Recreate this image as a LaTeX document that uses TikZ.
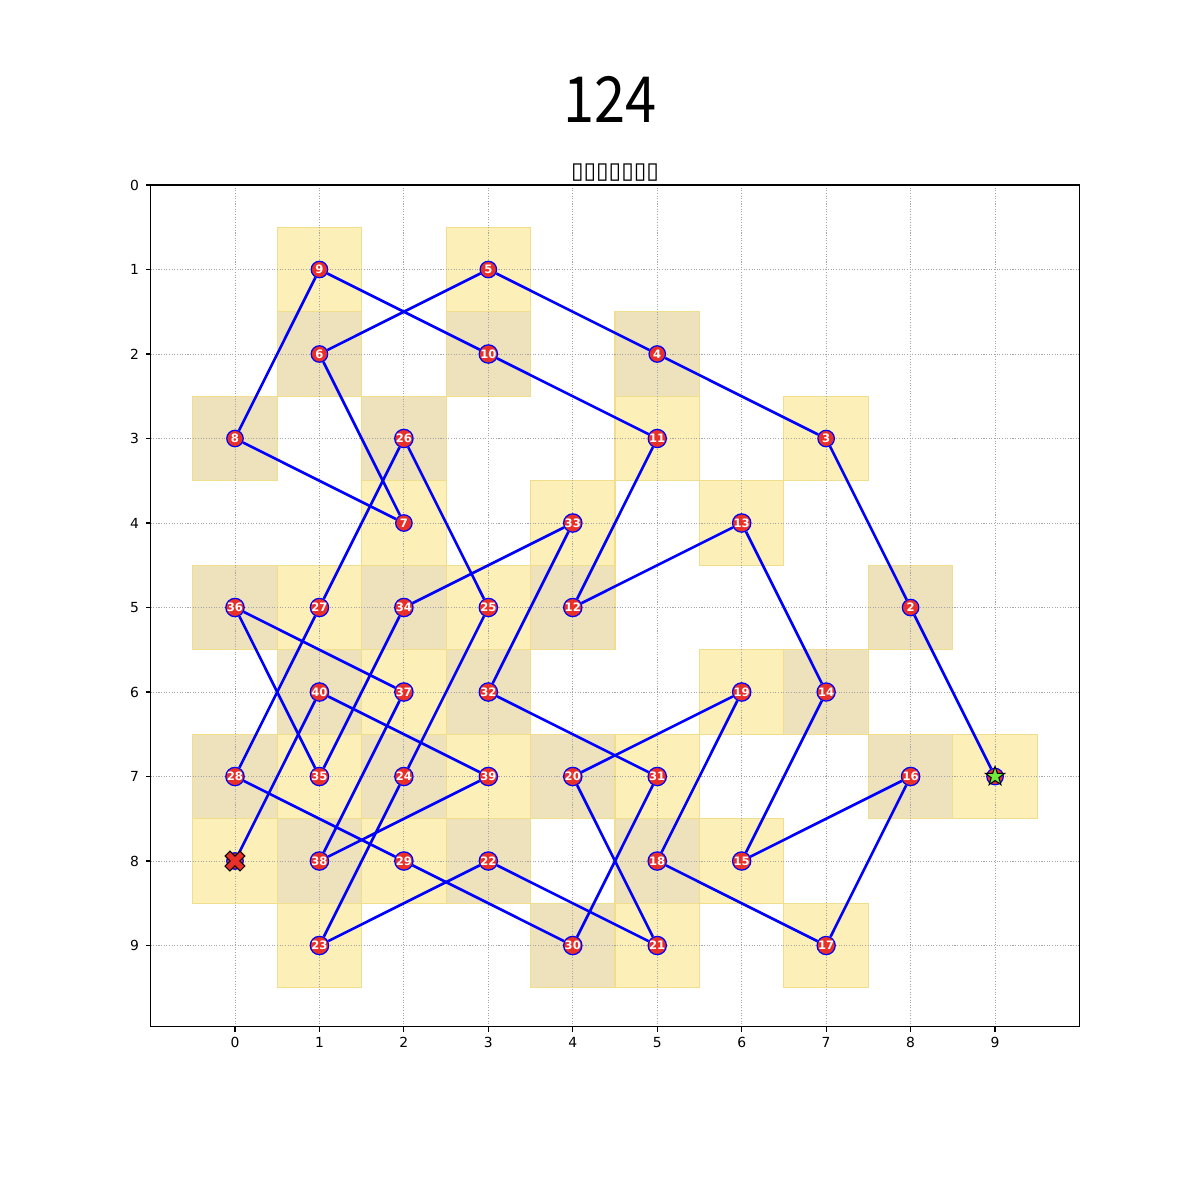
\documentclass[tikz,border=0pt]{standalone}
\usepackage{fontspec}
\setmainfont{DejaVu Sans}
\newfontfamily\titlefont{Noto Sans CJK SC}
\usetikzlibrary{shapes.geometric}

\definecolor{cellodd}{RGB}{252,240,184}
\definecolor{celleven}{RGB}{238,226,188}
\definecolor{celledge}{RGB}{240,222,140}
\definecolor{markred}{RGB}{232,48,40}
\definecolor{startgreen}{RGB}{110,235,60}
\definecolor{gridgray}{RGB}{165,165,165}

\begin{document}
\begin{tikzpicture}[
    x=0.8445cm, y=-0.845cm,
    cell/.style={draw=celledge, line width=0.3pt},
    visit/.style={circle, draw=blue, fill=markred, line width=0.35pt, minimum size=0.165cm, inner sep=0pt,
      text=white, font=\fontsize{3.3}{3.3}\selectfont\bfseries},
    move/.style={draw=blue, line width=0.75pt},
    gridline/.style={draw=gridgray, line width=0.25pt, dash pattern=on 0.3pt off 0.45pt},
    frame/.style={line width=0.32pt},
    ticklabel/.style={inner sep=0pt, font=\fontsize{3.95}{4.7}\selectfont}
  ]
  \useasboundingbox (-2.7827,-2.1893) rectangle (11.4269,12.0118);

  % title
  \node[font=\titlefont\fontsize{18.1}{18.1}\selectfont] (title) at (4.44,-1.01) {\scalebox{0.88}[1]{124}};
  \node[font=\fontsize{6.5}{6.5}\selectfont] (subtitle) at (4.5,-0.15) {▯▯▯▯▯▯▯};

  % visited cells, coloured by step parity
  \foreach \n/\cx/\cy in {1/9/7, 2/8/5, 3/7/3, 4/5/2, 5/3/1, 6/1/2, 7/2/4, 8/0/3, 9/1/1, 10/3/2,
      11/5/3, 12/4/5, 13/6/4, 14/7/6, 15/6/8, 16/8/7, 17/7/9, 18/5/8, 19/6/6, 20/4/7,
      21/5/9, 22/3/8, 23/1/9, 24/2/7, 25/3/5, 26/2/3, 27/1/5, 28/0/7, 29/2/8, 30/4/9,
      31/5/7, 32/3/6, 33/4/4, 34/2/5, 35/1/7, 36/0/5, 37/2/6, 38/1/8, 39/3/7, 40/1/6, 41/0/8} {
    \ifodd\n\relax \def\cellcol{cellodd}\else \def\cellcol{celleven}\fi
    \filldraw[cell, fill=\cellcol] (\cx-0.5,\cy-0.5) rectangle (\cx+0.5,\cy+0.5);
  }

  % grid
  \foreach \t in {0,...,9} {
    \draw[gridline] (\t,0) -- (\t,9.96);
    \draw[gridline] (-1,\t) -- (10,\t);
  }

  % axes
  \draw[frame] (-1,0) rectangle (10,9.96);
  \foreach \t in {0,...,9} {
    \draw[frame] (\t,9.96) -- (\t,10.018);
    \draw[frame] (-1,\t) -- (-1.058,\t);
    \node[ticklabel, anchor=north] (xl\t) at (\t,10.08) {\t};
    \node[ticklabel, anchor=east] (yl\t) at (-1.128,\t) {\t};
  }

  % tour squares
  \node[visit] (n1) at (9,7) {};
  \foreach \n/\cx/\cy in {2/8/5, 3/7/3, 4/5/2, 5/3/1, 6/1/2, 7/2/4, 8/0/3, 9/1/1, 10/3/2,
      11/5/3, 12/4/5, 13/6/4, 14/7/6, 15/6/8, 16/8/7, 17/7/9, 18/5/8, 19/6/6, 20/4/7,
      21/5/9, 22/3/8, 23/1/9, 24/2/7, 25/3/5, 26/2/3, 27/1/5, 28/0/7, 29/2/8, 30/4/9,
      31/5/7, 32/3/6, 33/4/4, 34/2/5, 35/1/7, 36/0/5, 37/2/6, 38/1/8, 39/3/7, 40/1/6}
    \node[visit] (n\n) at (\cx,\cy) {\n};
  \node[visit] (n41) at (0,8) {};

  % moves
  \foreach \a [evaluate=\a as \b using int(\a+1)] in {1,...,40}
    \draw[move] (n\a) -- (n\b);

  % start and end marks
  \node[star, star points=5, star point ratio=2.5, fill=startgreen, draw=black, line width=0.3pt,
    minimum size=0.2cm, inner sep=0pt] (start) at (n1) {};
  \coordinate (finish) at (n41);
  \filldraw[fill=markred, draw=black, line width=0.3pt, shift={(finish)}, rotate=45]
    (-0.035cm,-0.106cm) -- (0.035cm,-0.106cm) -- (0.035cm,-0.035cm) -- (0.106cm,-0.035cm)
    -- (0.106cm,0.035cm) -- (0.035cm,0.035cm) -- (0.035cm,0.106cm) -- (-0.035cm,0.106cm)
    -- (-0.035cm,0.035cm) -- (-0.106cm,0.035cm) -- (-0.106cm,-0.035cm) -- (-0.035cm,-0.035cm) -- cycle;
\end{tikzpicture}
\end{document}
